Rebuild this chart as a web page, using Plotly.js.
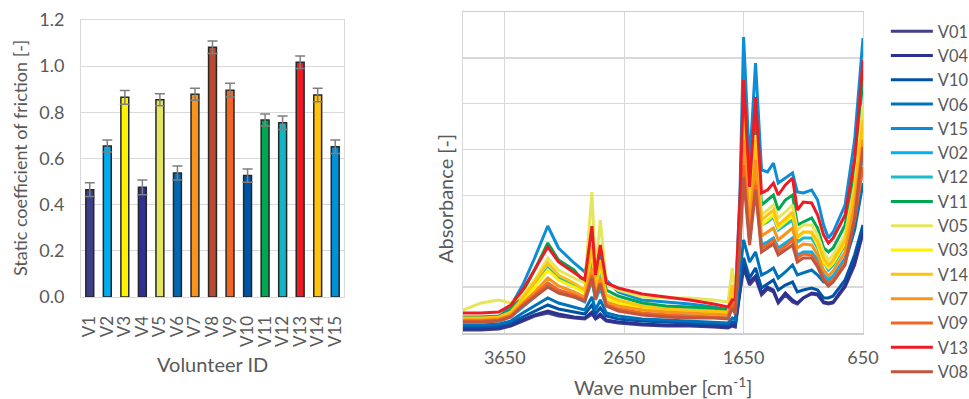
<!DOCTYPE html>
<html><head><meta charset="utf-8">
<script src="https://cdn.plot.ly/plotly-3.0.1.min.js"></script>
<style>html,body{margin:0;padding:0;background:#fff}#chart{width:969px;height:399px}</style>
</head><body><div id="chart"></div>
<script>
// ---- Left chart: static coefficient of friction ----
const volunteers = ['V1','V2','V3','V4','V5','V6','V7','V8','V9','V10','V11','V12','V13','V14','V15'];
const friction = [0.465,0.654,0.865,0.475,0.854,0.537,0.878,1.082,0.896,0.526,0.767,0.755,1.017,0.875,0.651];
const frictionErr = [0.030,0.026,0.030,0.032,0.026,0.030,0.026,0.027,0.030,0.029,0.026,0.029,0.027,0.029,0.029];
const barColors = ['#3E3D8A','#00AEEF','#FFF200','#2E3192','#E6E65C','#0068B5','#F7941D','#B94A32','#F26522','#0054A6','#00A651','#12B5C5','#ED1C24','#FFC20E','#0091D8'];

// ---- Right chart: spectra ----
const wavenumber = [4000,3850,3700,3600,3500,3400,3290,3200,3070,2980,2920,2890,2850,2800,2700,2500,2300,2100,1900,1780,1745,1720,1680,1650,1600,1550,1500,1450,1400,1360,1300,1240,1200,1150,1080,1030,980,940,900,800,720,650];
const V01 = [0.03,0.03,0.04,0.07,0.12,0.17,0.20,0.17,0.15,0.14,0.19,0.14,0.17,0.12,0.10,0.08,0.07,0.07,0.06,0.05,0.07,0.06,0.41,0.65,0.48,0.55,0.38,0.44,0.41,0.30,0.38,0.31,0.29,0.35,0.39,0.38,0.30,0.29,0.30,0.46,0.68,1.00];
const V04 = [0.04,0.04,0.05,0.08,0.13,0.18,0.22,0.19,0.16,0.15,0.21,0.15,0.19,0.13,0.11,0.09,0.08,0.08,0.07,0.06,0.08,0.07,0.43,0.68,0.51,0.57,0.40,0.46,0.43,0.31,0.40,0.33,0.30,0.35,0.40,0.39,0.31,0.30,0.31,0.48,0.71,1.03];
const V10 = [0.06,0.06,0.07,0.10,0.16,0.22,0.28,0.24,0.21,0.19,0.28,0.19,0.25,0.17,0.14,0.12,0.11,0.10,0.09,0.08,0.11,0.10,0.48,0.75,0.55,0.65,0.45,0.49,0.53,0.43,0.48,0.51,0.41,0.43,0.45,0.43,0.35,0.35,0.37,0.53,0.78,1.08];
const V06 = [0.08,0.08,0.09,0.12,0.20,0.27,0.35,0.30,0.26,0.23,0.36,0.23,0.33,0.20,0.17,0.14,0.13,0.12,0.11,0.10,0.15,0.13,0.63,0.93,0.71,0.81,0.58,0.61,0.65,0.55,0.61,0.68,0.58,0.60,0.63,0.58,0.51,0.50,0.53,0.71,1.03,1.50];
const V15 = [0.15,0.15,0.16,0.27,0.48,0.75,1.07,0.85,0.70,0.61,0.83,0.63,0.78,0.53,0.41,0.33,0.31,0.29,0.26,0.23,0.33,0.25,1.43,2.96,1.68,2.70,1.63,1.61,1.70,1.50,1.55,1.60,1.41,1.40,1.43,1.33,1.08,0.95,1.01,1.28,1.93,2.95];
const V02 = [0.11,0.11,0.12,0.16,0.26,0.36,0.48,0.41,0.36,0.31,0.53,0.33,0.45,0.27,0.23,0.19,0.18,0.17,0.16,0.15,0.28,0.21,0.93,1.73,0.93,1.53,0.88,0.91,0.95,0.85,0.90,0.95,0.78,0.81,0.81,0.73,0.58,0.53,0.57,0.75,1.18,1.83];
const V12 = [0.13,0.13,0.14,0.19,0.33,0.48,0.65,0.55,0.48,0.41,0.73,0.43,0.61,0.35,0.31,0.27,0.25,0.25,0.24,0.22,0.38,0.28,1.08,2.08,1.13,1.83,1.08,1.11,1.16,1.03,1.08,1.13,0.91,0.95,0.95,0.85,0.71,0.63,0.68,0.88,1.38,2.03];
const V11 = [0.16,0.16,0.17,0.23,0.41,0.63,0.90,0.73,0.63,0.50,0.83,0.53,0.71,0.43,0.37,0.30,0.27,0.26,0.25,0.23,0.28,0.28,1.23,2.33,1.33,2.13,1.28,1.33,1.38,1.23,1.33,1.38,1.08,1.11,1.15,1.05,0.85,0.81,0.85,1.08,1.63,2.55];
const V05 = [0.23,0.30,0.33,0.30,0.38,0.53,0.75,0.63,0.55,0.50,1.41,0.63,1.13,0.50,0.43,0.36,0.35,0.35,0.33,0.31,0.65,0.38,1.18,2.23,1.23,1.98,1.18,1.23,1.28,1.15,1.21,1.28,1.03,1.08,1.08,0.98,0.81,0.73,0.78,0.98,1.48,2.28];
const V03 = [0.14,0.14,0.15,0.20,0.33,0.46,0.63,0.53,0.46,0.40,0.83,0.45,0.68,0.35,0.30,0.25,0.23,0.22,0.21,0.20,0.43,0.27,1.08,2.15,1.13,1.88,1.08,1.13,1.18,1.05,1.11,1.18,0.95,1.01,1.00,0.88,0.71,0.65,0.70,0.90,1.40,2.08];
const V14 = [0.15,0.15,0.16,0.21,0.35,0.51,0.70,0.58,0.50,0.43,0.88,0.48,0.73,0.38,0.33,0.27,0.24,0.23,0.22,0.21,0.48,0.28,1.13,2.20,1.18,1.93,1.13,1.18,1.23,1.08,1.15,1.21,0.96,1.01,1.01,0.91,0.75,0.68,0.73,0.93,1.43,2.13];
const V07 = [0.13,0.13,0.14,0.18,0.30,0.41,0.55,0.47,0.41,0.36,0.65,0.39,0.55,0.31,0.27,0.23,0.21,0.20,0.19,0.18,0.35,0.24,1.01,1.93,1.03,1.73,0.97,1.01,1.05,0.93,0.99,1.05,0.85,0.89,0.88,0.78,0.63,0.57,0.62,0.81,1.28,1.93];
const V09 = [0.12,0.12,0.13,0.17,0.28,0.38,0.50,0.43,0.38,0.33,0.58,0.36,0.50,0.28,0.24,0.20,0.18,0.17,0.16,0.15,0.30,0.21,0.93,1.68,0.93,1.48,0.85,0.88,0.93,0.81,0.87,0.93,0.75,0.79,0.78,0.69,0.55,0.49,0.53,0.71,1.13,1.66];
const V13 = [0.20,0.20,0.21,0.28,0.43,0.63,0.86,0.71,0.60,0.53,1.07,0.58,0.88,0.50,0.45,0.39,0.36,0.33,0.29,0.26,0.33,0.33,1.33,2.53,1.46,2.36,1.40,1.43,1.50,1.38,1.48,1.55,1.23,1.31,1.30,1.18,0.98,0.90,0.95,1.18,1.73,2.73];
const V08 = [0.11,0.11,0.12,0.16,0.27,0.36,0.46,0.40,0.36,0.32,0.55,0.34,0.49,0.27,0.22,0.18,0.16,0.15,0.15,0.14,0.25,0.19,0.88,1.56,0.88,1.43,0.81,0.85,0.89,0.78,0.83,0.88,0.71,0.75,0.75,0.66,0.53,0.47,0.51,0.68,1.15,1.86];

const seriesNames = ['V01','V04','V10','V06','V15','V02','V12','V11','V05','V03','V14','V07','V09','V13','V08'];
const seriesValues = [V01,V04,V10,V06,V15,V02,V12,V11,V05,V03,V14,V07,V09,V13,V08];
const seriesColors = ['#414187','#2E3192','#0054A6','#0072BC','#0C8DD6','#00B0F0','#1CBBC9','#00A651','#E6E65C','#FFF200','#FFC20E','#F7941D','#F26522','#ED1C24','#C0563E'];

const FONT = 'Lato, "Open Sans", sans-serif';
const GREY = '#595959';
const GRID = '#d9d9d9';

const traces = [];
traces.push({
  type: 'bar', x: volunteers, y: friction, xaxis: 'x', yaxis: 'y',
  marker: {color: barColors, line: {color: '#262626', width: 1.5}},
  error_y: {type: 'data', array: frictionErr, visible: true, color: '#7f7f7f', thickness: 1.5, width: 5},
  showlegend: false, hoverinfo: 'x+y'
});
seriesNames.forEach((n, i) => {
  traces.push({
    type: 'scatter', mode: 'lines', name: n, x: wavenumber, y: seriesValues[i],
    xaxis: 'x2', yaxis: 'y2', line: {color: seriesColors[i], width: 3}
  });
});

const W = 969, H = 399;
const layout = {
  width: W, height: H,
  margin: {l: 0, r: 0, t: 0, b: 0, autoexpand: false},
  paper_bgcolor: '#fff', plot_bgcolor: '#fff',
  font: {family: FONT, size: 17, color: GREY},
  bargap: 0.55,
  xaxis: {
    domain: [81/W, 344/W], anchor: 'y', type: 'category',
    tickmode: 'array', tickvals: volunteers, ticktext: volunteers,
    tickangle: -90, ticks: 'outside', ticklen: 11, tickcolor: 'rgba(0,0,0,0)',
    showline: true, linecolor: GRID, linewidth: 1, mirror: true, showgrid: false,
    tickfont: {size: 17, color: GREY}, automargin: false
  },
  yaxis: {
    domain: [(H-297)/H, (H-20)/H], anchor: 'x', range: [0, 1.2], dtick: 0.2, tickformat: '.1f',
    showline: true, linecolor: GRID, linewidth: 1, mirror: true, gridcolor: GRID, gridwidth: 1,
    ticks: 'outside', ticklen: 12, tickcolor: 'rgba(0,0,0,0)', zeroline: false,
    tickfont: {size: 18, color: GREY}, automargin: false
  },
  xaxis2: {
    domain: [463/W, 863/W], anchor: 'y2', range: [4000, 650],
    tickvals: [3650, 2650, 1650, 650], ticktext: ['3650','2650','1650','650'],
    showgrid: true, gridcolor: GRID, gridwidth: 1.3,
    showline: true, linecolor: '#cfcfcf', linewidth: 1.5, mirror: true, zeroline: false,
    ticks: 'outside', ticklen: 8, tickcolor: 'rgba(0,0,0,0)',
    tickfont: {size: 18, color: GREY}, automargin: false
  },
  yaxis2: {
    domain: [(H-333)/H, (H-12)/H], anchor: 'x2', range: [0, 3.21], tick0: 0, dtick: 3.21/7,
    showticklabels: false, showgrid: true, gridcolor: GRID, gridwidth: 1.3,
    showline: true, linecolor: GRID, linewidth: 1.3, mirror: true, zeroline: false, ticks: '', automargin: false
  },
  legend: {
    x: 1.005, xanchor: 'right', y: (H-14)/H, yanchor: 'top',
    font: {size: 16.4, color: GREY}, bgcolor: 'rgba(0,0,0,0)', borderwidth: 0,
    traceorder: 'normal', itemwidth: 42, tracegroupgap: 0
  },
  annotations: [
    {text: 'Static coefficient of friction [-]', xref: 'paper', yref: 'paper', x: 20/W, y: (H-158)/H,
     textangle: -90, showarrow: false, xanchor: 'center', yanchor: 'middle', font: {size: 18, color: GREY}},
    {text: 'Volunteer ID', xref: 'paper', yref: 'paper', x: 212/W, y: (H-364)/H,
     showarrow: false, xanchor: 'center', yanchor: 'middle', font: {size: 20, color: GREY}},
    {text: 'Absorbance [-]', xref: 'paper', yref: 'paper', x: 445/W, y: (H-199)/H,
     textangle: -90, showarrow: false, xanchor: 'center', yanchor: 'middle', font: {size: 20, color: GREY}},
    {text: 'Wave number [cm<sup>-1</sup>]', xref: 'paper', yref: 'paper', x: 663/W, y: (H-386)/H,
     showarrow: false, xanchor: 'center', yanchor: 'middle', font: {size: 20, color: GREY}}
  ]
};

Plotly.newPlot('chart', traces, layout, {staticPlot: true, displayModeBar: false});
</script>
</body></html>
